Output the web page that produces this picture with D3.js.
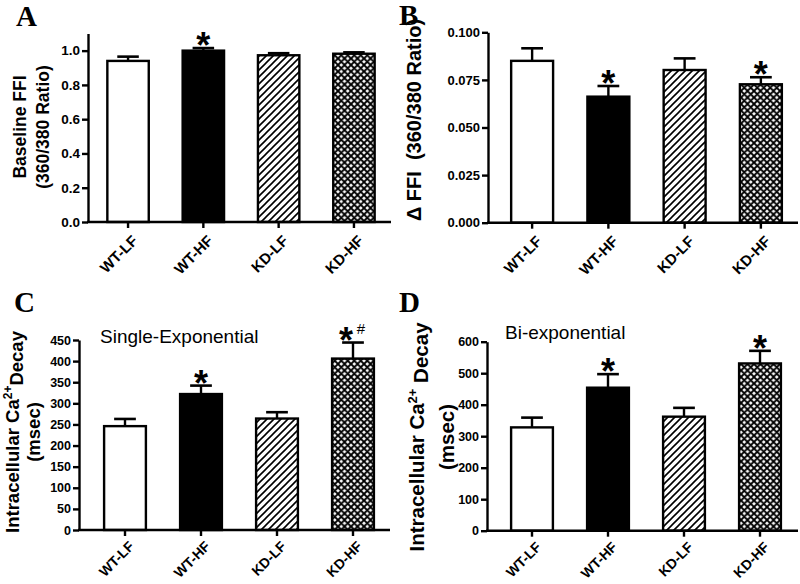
<!DOCTYPE html>
<html>
<head>
<meta charset="utf-8">
<script src="https://cdn.jsdelivr.net/npm/d3@7"></script>
<style>
  html, body { margin: 0; padding: 0; background: #fff; }
  svg { display: block; }
  text { font-family: "Liberation Sans", Arial, sans-serif; fill: #000; }
</style>
</head>
<body>
<svg id="chart" width="800" height="584"></svg>
<script>
// ---------------- DATA ----------------
const categories = ["WT-LF", "WT-HF", "KD-LF", "KD-HF"];
const fills = ["white", "black", "hatch", "cross"];

const baselineFFI    = [0.940, 1.000, 0.973, 0.982];
const baselineFFIErr = [0.025, 0.015, 0.012, 0.008];
const baselineSig    = ["", "*", "", ""];
const baselineTicks  = [0, 0.2, 0.4, 0.6, 0.8, 1.0];

const deltaFFI    = [0.0850, 0.0662, 0.0802, 0.0727];
const deltaFFIErr = [0.0066, 0.0056, 0.0061, 0.0037];
const deltaSig    = ["", "*", "", "*"];
const deltaTicks  = [0, 0.025, 0.050, 0.075, 0.100];

const singleExp    = [246, 322, 264, 406];
const singleExpErr = [17, 20, 15, 38];
const singleSig    = ["", "*", "", "*"];
const singleHash   = ["", "", "", "#"];
const singleTicks  = [0, 50, 100, 150, 200, 250, 300, 350, 400, 450];

const biExp    = [328, 454, 362, 531];
const biExpErr = [31, 43, 28, 40];
const biSig    = ["", "*", "", "*"];
const biTicks  = [0, 100, 200, 300, 400, 500, 600];

// ---------------- DRAW ----------------
const svg = d3.select("#chart");
const defs = svg.append("defs");

const ph = defs.append("pattern").attr("id", "hatch")
  .attr("patternUnits", "userSpaceOnUse").attr("width", 7).attr("height", 7);
ph.append("rect").attr("width", 7).attr("height", 7).attr("fill", "#fff");
ph.append("path").attr("d", "M-1,8 L8,-1 M-2,2 L2,-2 M5,9 L9,5")
  .attr("stroke", "#000").attr("stroke-width", 1.6);

const pc = defs.append("pattern").attr("id", "cross")
  .attr("patternUnits", "userSpaceOnUse").attr("width", 6.5).attr("height", 6.5);
pc.append("rect").attr("width", 6.5).attr("height", 6.5).attr("fill", "#fff");
pc.append("path").attr("d", "M-1,7.5 L7.5,-1 M-1,1 L1,-1 M5.5,7.5 L7.5,5.5 M-1,-1 L7.5,7.5 M-1,5.5 L1,7.5 M5.5,-1 L7.5,1")
  .attr("stroke", "#000").attr("stroke-width", 1.9);

function fillOf(f) {
  if (f === "white") return "#fff";
  if (f === "black") return "#000";
  return "url(#" + f + ")";
}

function panel(cfg) {
  const g = svg.append("g");
  const x = d3.scaleBand().domain(categories).range(cfg.band)
    .paddingInner(0.45).paddingOuter(0.225);
  const y = d3.scaleLinear().domain([0, cfg.max]).range([cfg.yBottom, cfg.yTop]);

  // bars
  g.selectAll("rect.bar").data(categories).join("rect")
    .attr("class", "bar")
    .attr("x", d => x(d))
    .attr("width", x.bandwidth())
    .attr("y", (d, i) => y(cfg.values[i]))
    .attr("height", (d, i) => y(0) - y(cfg.values[i]))
    .attr("fill", (d, i) => fillOf(fills[i]))
    .attr("stroke", "#000").attr("stroke-width", 2.4);

  // error bars
  const capW = x.bandwidth() * 0.52;
  categories.forEach((c, i) => {
    const cx = x(c) + x.bandwidth() / 2;
    const yv = y(cfg.values[i]);
    const ye = y(cfg.values[i] + cfg.errs[i]);
    g.append("line").attr("x1", cx).attr("x2", cx).attr("y1", yv).attr("y2", ye)
      .attr("stroke", "#000").attr("stroke-width", 2.4);
    g.append("line").attr("x1", cx - capW / 2).attr("x2", cx + capW / 2)
      .attr("y1", ye).attr("y2", ye)
      .attr("stroke", "#000").attr("stroke-width", 2.6);
    if (cfg.sig[i]) {
      g.append("text").attr("x", cx + (cfg.hash && cfg.hash[i] ? -7 : 0))
        .attr("y", ye + 10)
        .attr("text-anchor", "middle")
        .style("font-size", "36px").style("font-weight", "bold")
        .text(cfg.sig[i]);
    }
    if (cfg.hash && cfg.hash[i]) {
      g.append("text").attr("x", cx + 8).attr("y", ye - 9)
        .attr("text-anchor", "middle")
        .style("font-size", "15px")
        .text(cfg.hash[i]);
    }
  });

  // y axis
  const ya = g.append("g").attr("transform", `translate(${cfg.x0},0)`)
    .call(d3.axisLeft(y).tickValues(cfg.ticks).tickSize(6).tickSizeOuter(0)
      .tickPadding(2).tickFormat(cfg.fmt));
  ya.attr("font-family", null).attr("font-size", null);
  ya.select(".domain").attr("stroke-width", 2.4);
  ya.selectAll(".tick line").attr("stroke-width", 2.4);
  ya.selectAll(".tick text")
    .attr("font-family", "Liberation Sans, Arial, sans-serif")
    .attr("font-size", cfg.tickFont).attr("font-weight", "700").attr("fill", "#000")
    .style("font-size", cfg.tickFont + "px").style("font-weight", "700");

  // x axis
  const xa = g.append("g").attr("transform", `translate(0,${cfg.yBottom})`)
    .call(d3.axisBottom(x).tickSize(6).tickSizeOuter(0).tickFormat(() => ""));
  xa.select(".domain").remove();
  xa.selectAll(".tick line").attr("stroke-width", 2.4);
  g.append("line").attr("x1", cfg.x0 - 1).attr("x2", cfg.xEnd)
    .attr("y1", cfg.yBottom).attr("y2", cfg.yBottom)
    .attr("stroke", "#000").attr("stroke-width", 2.4);

  // rotated category labels
  g.selectAll("text.cat").data(categories).join("text")
    .attr("class", "cat")
    .attr("transform", d => `translate(${x(d) + x.bandwidth() / 2 + 3},${cfg.yBottom + cfg.catOff}) rotate(-45)`)
    .attr("text-anchor", "end")
    .attr("dy", "0.72em")
    .style("font-size", cfg.catFont + "px").style("font-weight", "bold")
    .text(d => d);

  // panel letter
  svg.append("text").attr("x", cfg.letterPos[0]).attr("y", cfg.letterPos[1])
    .style("font-family", "Liberation Serif, Times New Roman, serif")
    .style("font-size", "29px").style("font-weight", "bold")
    .text(cfg.letter);

  return { x, y, g };
}

// Panel A
const pA = panel({
  values: baselineFFI, errs: baselineFFIErr, sig: baselineSig, ticks: baselineTicks,
  fmt: d3.format(".1f"), max: 1.1, x0: 88, xEnd: 391, band: [90.4, 391.6],
  yBottom: 222, yTop: 33.5, tickFont: 13.5, catFont: 15, catOff: 12, letter: "A", letterPos: [16, 26]
});
svg.append("text")
  .attr("transform", "translate(26,127) rotate(-90)")
  .attr("text-anchor", "middle")
  .style("font-size", "17.5px").style("font-weight", "bold")
  .text("Baseline FFI");
svg.append("text")
  .attr("transform", "translate(49,127) rotate(-90)")
  .attr("text-anchor", "middle")
  .style("font-size", "17.5px").style("font-weight", "bold")
  .text("(360/380 Ratio)");

// Panel B
const pB = panel({
  values: deltaFFI, errs: deltaFFIErr, sig: deltaSig, ticks: deltaTicks,
  fmt: d3.format(".3f"), max: 0.1, x0: 488, xEnd: 798, band: [494, 799],
  yBottom: 222.7, yTop: 32.3, tickFont: 13, catFont: 15, catOff: 12, letter: "B", letterPos: [399, 25]
});
svg.append("text")
  .attr("transform", "translate(421,120) rotate(-90)")
  .attr("text-anchor", "middle")
  .style("font-size", "20px").style("font-weight", "bold")
  .attr("xml:space", "preserve")
  .text("\u0394 FFI  (360/380 Ratio)");

// Panel C
const pC = panel({
  values: singleExp, errs: singleExpErr, sig: singleSig, hash: singleHash, ticks: singleTicks,
  fmt: d3.format("d"), max: 450, x0: 79, xEnd: 390, band: [87, 391],
  yBottom: 530, yTop: 340, tickFont: 12.5, catFont: 14, catOff: 10, letter: "C", letterPos: [14, 312]
});
const tC = svg.append("text")
  .attr("transform", "translate(19,432) rotate(-90)")
  .attr("text-anchor", "middle")
  .style("font-size", "18.5px").style("font-weight", "bold");
tC.append("tspan").text("Intracellular Ca");
tC.append("tspan").attr("dy", "-0.55em").style("font-size", "12px").text("2+");
tC.append("tspan").attr("dy", "0.55em").text("Decay");
svg.append("text")
  .attr("transform", "translate(40,432) rotate(-90)")
  .attr("text-anchor", "middle")
  .style("font-size", "18.5px").style("font-weight", "bold")
  .text("(msec)");
svg.append("text").attr("x", 100).attr("y", 343)
  .style("font-size", "19px").text("Single-Exponential");

// Panel D
const pD = panel({
  values: biExp, errs: biExpErr, sig: biSig, ticks: biTicks,
  fmt: d3.format("d"), max: 600, x0: 487, xEnd: 798, band: [494, 798],
  yBottom: 530.7, yTop: 341.7, tickFont: 12.5, catFont: 14, catOff: 10, letter: "D", letterPos: [399, 312]
});
const tD = svg.append("text")
  .attr("transform", "translate(424,437) rotate(-90)")
  .attr("text-anchor", "middle")
  .style("font-size", "20.5px").style("font-weight", "bold");
tD.append("tspan").text("Intracellular Ca");
tD.append("tspan").attr("dy", "-0.55em").style("font-size", "13px").text("2+");
tD.append("tspan").attr("dy", "0.55em").text(" Decay");
svg.append("text")
  .attr("transform", "translate(454,437) rotate(-90)")
  .attr("text-anchor", "middle")
  .style("font-size", "20.5px").style("font-weight", "bold")
  .text("(msec)");
svg.append("text").attr("x", 505).attr("y", 339)
  .style("font-size", "19px").text("Bi-exponential");
</script>
</body>
</html>
